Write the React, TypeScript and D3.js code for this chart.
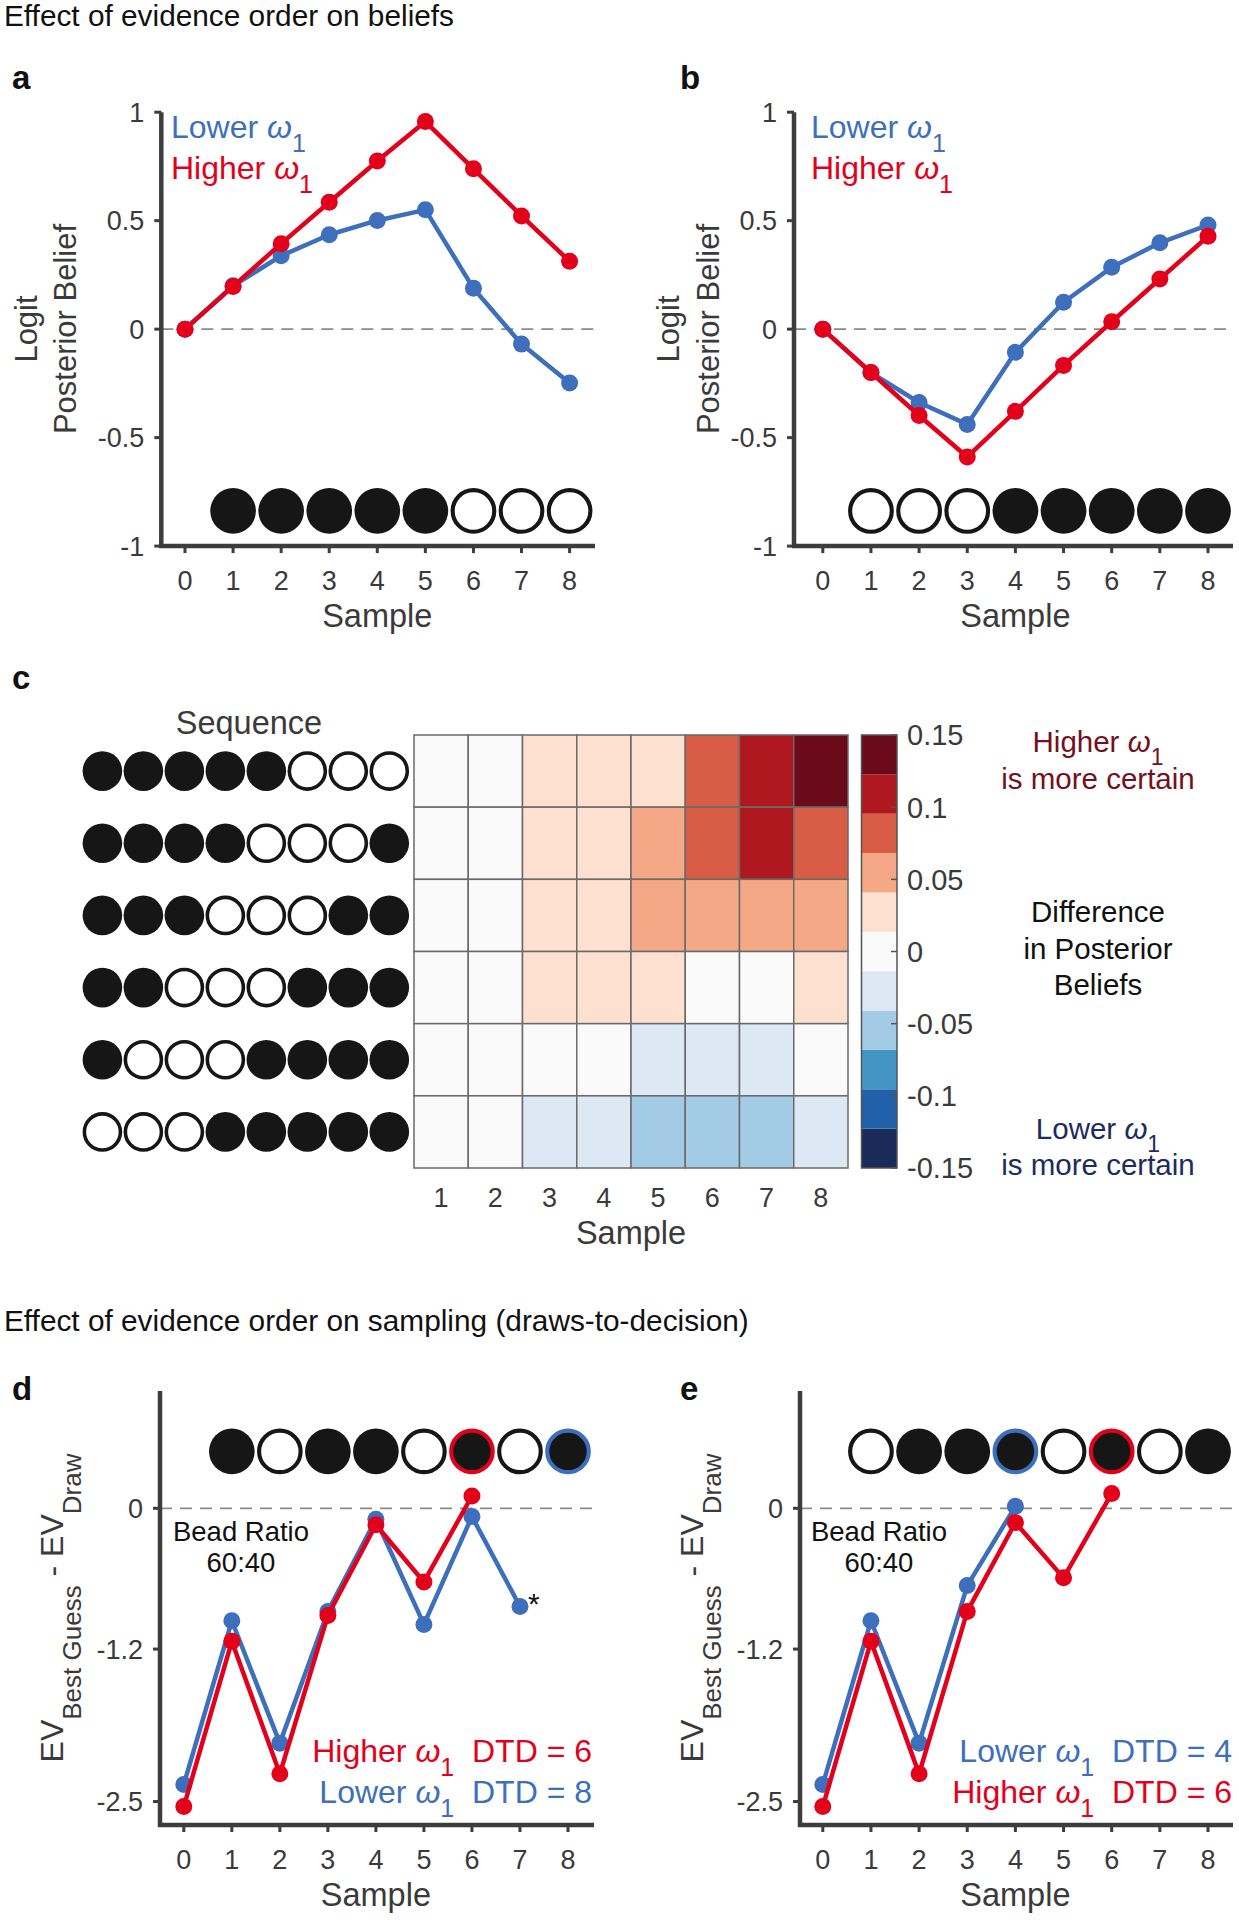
import * as d3 from "d3";

const FONT = "'Liberation Sans', Arial, Helvetica, sans-serif";
const BLUE = "#3e6fbd";
const RED = "#e2001a";
const INK = "#161616";
const AXIS_GREY = "#3d3d3d";
const TEXT_GREY = "#3a3a3a";

// x axis of the line panels
const sampleTicks = [0, 1, 2, 3, 4, 5, 6, 7, 8];

// a / b : logit posterior belief
const beliefTicks = [-1, -0.5, 0, 0.5, 1];
const lowerA = [0, 0.2, 0.338, 0.435, 0.501, 0.55, 0.188, -0.069, -0.248];
const higherA = [0, 0.197, 0.394, 0.585, 0.775, 0.957, 0.739, 0.522, 0.313];
const lowerB = [0, -0.2, -0.338, -0.439, -0.107, 0.124, 0.285, 0.398, 0.48];
const higherB = [0, -0.2, -0.398, -0.589, -0.379, -0.167, 0.034, 0.231, 0.428];
const beadsA = [1, 1, 1, 1, 1, 0, 0, 0];
const beadsB = [0, 0, 0, 1, 1, 1, 1, 1];

// c : difference in posterior beliefs (higher - lower)
const heatSamples = [1, 2, 3, 4, 5, 6, 7, 8];
const sequences = [
  [1, 1, 1, 1, 1, 0, 0, 0],
  [1, 1, 1, 1, 0, 0, 0, 1],
  [1, 1, 1, 0, 0, 0, 1, 1],
  [1, 1, 0, 0, 0, 1, 1, 1],
  [1, 0, 0, 0, 1, 1, 1, 1],
  [0, 0, 0, 1, 1, 1, 1, 1],
];
const heatValues = [
  [0, 0, 0.024, 0.028, 0.031, 0.083, 0.112, 0.138],
  [0, 0, 0.022, 0.026, 0.052, 0.079, 0.108, 0.081],
  [0, 0, 0.019, 0.024, 0.049, 0.055, 0.058, 0.054],
  [0, 0, 0.016, 0.021, 0.025, 0.006, 0.004, 0.022],
  [0, 0, -0.004, -0.008, -0.021, -0.026, -0.024, -0.01],
  [0, 0, -0.018, -0.024, -0.046, -0.052, -0.049, -0.031],
];
const cbarColors = [
  "#1b2b59", "#2161a9", "#4494c6", "#a3cbe5", "#dce9f5", "#fafafa",
  "#fde0cf", "#f4a886", "#d95c46", "#b01820", "#6b0a1a",
];
const cbarTicks = [-0.15, -0.1, -0.05, 0, 0.05, 0.1, 0.15];

// d / e : EV best guess - EV draw
const evTicks = [-2.5, -1.2, 0];
const lowerD = [-2.354, -0.959, -2.002, -0.879, -0.094, -0.99, -0.07, -0.837];
const higherD = [-2.543, -1.134, -2.264, -0.914, -0.14, -0.628, 0.105];
const lowerE = [-2.354, -0.959, -2.002, -0.659, 0.017];
const higherE = [-2.543, -1.134, -2.264, -0.879, -0.122, -0.593, 0.126];
const beadsD = [1, 0, 1, 1, 0, 1, 0, 1];
const ringsD = ["", "", "", "", "", "red", "", "blue"];
const beadsE = [0, 1, 1, 1, 0, 1, 0, 1];
const ringsE = ["", "", "", "blue", "", "red", "", ""];

const ringColour = (k: string) => (k === "red" ? RED : k === "blue" ? BLUE : "");

function Bead({ cx, cy, r, filled, ring }: { cx: number; cy: number; r: number; filled: number; ring?: string }) {
  const sw = r * 0.18;
  if (filled && !ring) return <circle cx={cx} cy={cy} r={r} fill={INK} />;
  return (
    <circle cx={cx} cy={cy} r={r - sw / 2} fill={filled ? INK : "#fff"} stroke={ring || INK} strokeWidth={sw} />
  );
}

// "ω1" with subscript, followed by optional tail at normal baseline
function OmegaOne({ size, tail }: { size: number; tail?: string }) {
  const shift = size * 0.45;
  return (
    <>
      <tspan fontStyle="italic">ω</tspan>
      <tspan dy={shift} fontSize={size * 0.78}>1</tspan>
      {tail ? <tspan dy={-shift} fontSize={size}>{tail}</tspan> : null}
    </>
  );
}

type PanelProps = {
  axisX: number;
  first: number;
  last: number;
  axisEnd: number;
  top: number;
  bottom: number;
  domain: [number, number];
  ticks: number[];
  lower: number[];
  higher: number[];
  beads: number[];
  rings?: string[];
  beadLevel: number;
  star?: boolean;
};

function LinePanel(p: PanelProps) {
  const x = d3.scaleLinear().domain([0, 8]).range([p.first, p.last]);
  const y = d3.scaleLinear().domain(p.domain).range([p.bottom, p.top]);
  const path = d3.line<number>().x((_, i) => x(i)).y((d) => y(d));
  const beadR = (x(1) - x(0)) * 0.475;
  const lastLower = p.lower.length - 1;

  return (
    <g>
      {/* zero reference */}
      <line x1={p.axisX} x2={p.axisEnd} y1={y(0)} y2={y(0)} stroke="#8a8a8a" strokeWidth={1.8} strokeDasharray="12 8" />

      {/* beads */}
      {p.beads.map((b, i) => (
        <Bead key={i} cx={x(i + 1)} cy={y(p.beadLevel)} r={beadR} filled={b} ring={p.rings ? ringColour(p.rings[i]) : ""} />
      ))}

      {/* series */}
      <path d={path(p.lower) ?? ""} fill="none" stroke={BLUE} strokeWidth={4.5} strokeLinejoin="round" />
      {p.lower.map((v, i) => (
        <circle key={"l" + i} cx={x(i)} cy={y(v)} r={8.5} fill={BLUE} />
      ))}
      <path d={path(p.higher) ?? ""} fill="none" stroke={RED} strokeWidth={4.5} strokeLinejoin="round" />
      {p.higher.map((v, i) => (
        <circle key={"h" + i} cx={x(i)} cy={y(v)} r={8.5} fill={RED} />
      ))}
      {p.star ? (
        <text x={x(lastLower) + 8} y={y(p.lower[lastLower]) + 8} fontSize={30} fill="#111">*</text>
      ) : null}

      {/* axes */}
      <line x1={p.axisX} x2={p.axisX} y1={p.top} y2={p.bottom + 2} stroke={AXIS_GREY} strokeWidth={4.5} />
      <line x1={p.axisX - 2} x2={p.axisEnd} y1={p.bottom} y2={p.bottom} stroke={AXIS_GREY} strokeWidth={4.5} />
      {sampleTicks.map((t) => (
        <g key={"x" + t}>
          <line x1={x(t)} x2={x(t)} y1={p.bottom} y2={p.bottom + 7} stroke={AXIS_GREY} strokeWidth={3} />
          <text x={x(t)} y={p.bottom + 44} fontSize={27} textAnchor="middle" fill={TEXT_GREY}>{t}</text>
        </g>
      ))}
      {p.ticks.map((t) => (
        <g key={"y" + t}>
          <line x1={p.axisX - 7} x2={p.axisX} y1={y(t)} y2={y(t)} stroke={AXIS_GREY} strokeWidth={3} />
          <text x={p.axisX - 17} y={y(t)} dy="0.36em" fontSize={27} textAnchor="end" fill={TEXT_GREY}>{t}</text>
        </g>
      ))}
      <text x={x(4)} y={p.bottom + 81} fontSize={32.5} textAnchor="middle" fill={TEXT_GREY}>Sample</text>
    </g>
  );
}

function HeatPanel() {
  const left = 414, right = 848, top = 735, bottom = 1168;
  const col = d3.scaleBand<number>().domain(heatSamples).range([left, right]);
  const row = d3.scaleBand<number>().domain(d3.range(sequences.length)).range([top, bottom]);
  const seqX = d3.scalePoint<number>().domain(heatSamples).range([102.4, 389.3]);
  const colour = d3.scaleQuantize<string>().domain([-0.15, 0.15]).range(cbarColors);
  const cb = d3.scaleLinear().domain([-0.15, 0.15]).range([bottom, top]);
  const binW = 0.3 / cbarColors.length;
  const cbL = 861.5, cbR = 897;

  return (
    <g>
      <text x={249} y={734} fontSize={32.5} textAnchor="middle" fill={TEXT_GREY}>Sequence</text>
      {sequences.map((seq, r) =>
        seq.map((b, j) => (
          <Bead key={r + "-" + j} cx={seqX(j + 1)!} cy={row(r)! + row.bandwidth() / 2} r={19.8} filled={b} />
        ))
      )}
      {heatValues.map((vals, r) =>
        vals.map((v, j) => (
          <rect key={"c" + r + j} x={col(j + 1)} y={row(r)} width={col.bandwidth()} height={row.bandwidth()}
            fill={colour(v)} stroke="#6a6a6a" strokeWidth={1.5} />
        ))
      )}
      {heatSamples.map((s) => (
        <text key={"t" + s} x={col(s)! + col.bandwidth() / 2} y={1207} fontSize={27} textAnchor="middle" fill={TEXT_GREY}>{s}</text>
      ))}
      <text x={(left + right) / 2} y={1244} fontSize={32.5} textAnchor="middle" fill={TEXT_GREY}>Sample</text>

      {/* colour bar */}
      {cbarColors.map((c, i) => (
        <rect key={"b" + i} x={cbL} width={cbR - cbL} y={cb(-0.15 + (i + 1) * binW)} height={cb(-0.15 + i * binW) - cb(-0.15 + (i + 1) * binW)} fill={c} />
      ))}
      <rect x={cbL} y={top} width={cbR - cbL} height={bottom - top} fill="none" stroke="#555" strokeWidth={1.5} />
      {cbarTicks.map((t) => (
        <g key={"cb" + t}>
          <line x1={cbR - 6} x2={cbR} y1={cb(t)} y2={cb(t)} stroke="#555" strokeWidth={1.5} />
          <text x={907} y={cb(t)} dy="0.36em" fontSize={29} fill={TEXT_GREY}>{t}</text>
        </g>
      ))}

      {/* side notes */}
      <g fontSize={29.5} textAnchor="middle">
        <text x={1098} y={752} fill="#741020">Higher <OmegaOne size={29.5} /></text>
        <text x={1098} y={789} fill="#741020">is more certain</text>
        <text x={1098} y={922} fill="#111">Difference</text>
        <text x={1098} y={959} fill="#111">in Posterior</text>
        <text x={1098} y={995} fill="#111">Beliefs</text>
        <text x={1098} y={1139} fill="#1c2c5e">Lower <OmegaOne size={29.5} /></text>
        <text x={1098} y={1175} fill="#1c2c5e">is more certain</text>
      </g>
    </g>
  );
}

const PanelLetter = ({ x, y, t }: { x: number; y: number; t: string }) => (
  <text x={x} y={y} fontSize={33} fontWeight="bold" fill="#111">{t}</text>
);

function EvLabel({ x, y }: { x: number; y: number }) {
  return (
    <text transform={`translate(${x},${y}) rotate(-90)`} textAnchor="middle" fontSize={32} fill={TEXT_GREY}>
      EV<tspan dy={18} fontSize={26}>Best Guess</tspan>
      <tspan dy={-18} fontSize={32}>{"\u00a0- EV"}</tspan>
      <tspan dy={18} fontSize={26}>Draw</tspan>
    </text>
  );
}

export default function App() {
  const abTop = 112.2, abBottom = 546.1;
  const deTop = 1391, deBottom = 1825;
  return (
    <svg width={1239} height={1920} viewBox="0 0 1239 1920" fontFamily={FONT}
      style={{ position: "absolute", left: 0, top: 0, background: "#fff" }}>
      <rect width={1239} height={1920} fill="#fff" />

      <text x={4} y={26} fontSize={29.8} fill="#111">Effect of evidence order on beliefs</text>

      {/* a */}
      <PanelLetter x={12} y={89} t="a" />
      <text transform="translate(37,329) rotate(-90)" textAnchor="middle" fontSize={31} fill={TEXT_GREY}>Logit</text>
      <text transform="translate(76,329) rotate(-90)" textAnchor="middle" fontSize={31} fill={TEXT_GREY}>Posterior Belief</text>
      <LinePanel axisX={161.3} first={185} last={569.6} axisEnd={595} top={abTop} bottom={abBottom}
        domain={[-1, 1]} ticks={beliefTicks} lower={lowerA} higher={higherA} beads={beadsA} beadLevel={-0.838} />
      <text x={171} y={137.5} fontSize={32} fill={BLUE}>Lower <OmegaOne size={32} /></text>
      <text x={171} y={178.5} fontSize={32} fill={RED}>Higher <OmegaOne size={32} /></text>

      {/* b */}
      <PanelLetter x={680} y={89} t="b" />
      <text transform="translate(679,329) rotate(-90)" textAnchor="middle" fontSize={31} fill={TEXT_GREY}>Logit</text>
      <text transform="translate(719,329) rotate(-90)" textAnchor="middle" fontSize={31} fill={TEXT_GREY}>Posterior Belief</text>
      <LinePanel axisX={794} first={822.8} last={1208} axisEnd={1233} top={abTop} bottom={abBottom}
        domain={[-1, 1]} ticks={beliefTicks} lower={lowerB} higher={higherB} beads={beadsB} beadLevel={-0.838} />
      <text x={811} y={137.5} fontSize={32} fill={BLUE}>Lower <OmegaOne size={32} /></text>
      <text x={811} y={178.5} fontSize={32} fill={RED}>Higher <OmegaOne size={32} /></text>

      {/* c */}
      <PanelLetter x={12} y={689} t="c" />
      <HeatPanel />

      <text x={4} y={1331} fontSize={29.8} fill="#111">Effect of evidence order on sampling (draws-to-decision)</text>

      {/* d */}
      <PanelLetter x={12} y={1400} t="d" />
      <EvLabel x={63} y={1608} />
      <LinePanel axisX={160} first={183.8} last={568} axisEnd={594} top={deTop} bottom={deBottom}
        domain={[-2.7, 1]} ticks={evTicks} lower={lowerD} higher={higherD} beads={beadsD} rings={ringsD}
        beadLevel={0.485} star />
      <text x={241} y={1541} fontSize={27.5} textAnchor="middle" fill="#111">Bead Ratio</text>
      <text x={241} y={1572} fontSize={27.5} textAnchor="middle" fill="#111">60:40</text>
      <text x={592} y={1761.5} fontSize={32} textAnchor="end" fill={RED}>Higher <OmegaOne size={32} tail={"\u00a0\u00a0DTD = 6"} /></text>
      <text x={592} y={1802.5} fontSize={32} textAnchor="end" fill={BLUE}>Lower <OmegaOne size={32} tail={"\u00a0\u00a0DTD = 8"} /></text>

      {/* e */}
      <PanelLetter x={680} y={1400} t="e" />
      <EvLabel x={703} y={1608} />
      <LinePanel axisX={800} first={822.8} last={1208} axisEnd={1233} top={deTop} bottom={deBottom}
        domain={[-2.7, 1]} ticks={evTicks} lower={lowerE} higher={higherE} beads={beadsE} rings={ringsE}
        beadLevel={0.485} />
      <text x={879} y={1541} fontSize={27.5} textAnchor="middle" fill="#111">Bead Ratio</text>
      <text x={879} y={1572} fontSize={27.5} textAnchor="middle" fill="#111">60:40</text>
      <text x={1232} y={1761.5} fontSize={32} textAnchor="end" fill={BLUE}>Lower <OmegaOne size={32} tail={"\u00a0\u00a0DTD = 4"} /></text>
      <text x={1232} y={1802.5} fontSize={32} textAnchor="end" fill={RED}>Higher <OmegaOne size={32} tail={"\u00a0\u00a0DTD = 6"} /></text>
    </svg>
  );
}
